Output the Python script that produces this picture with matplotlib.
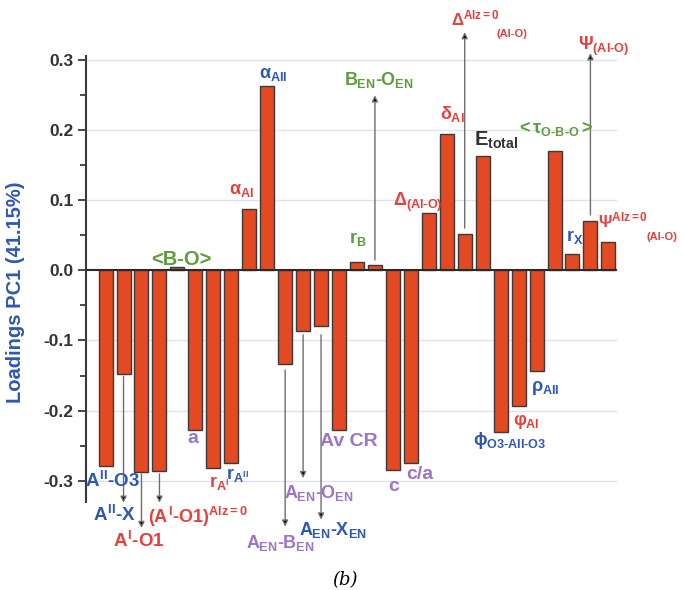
import matplotlib
matplotlib.use('Agg')
import matplotlib.pyplot as plt

plt.rcParams['font.family'] = ['Liberation Sans', 'DejaVu Sans']
plt.rcParams['font.weight'] = 'bold'
plt.rcParams['mathtext.fontset'] = 'custom'
plt.rcParams['mathtext.rm'] = 'Liberation Sans:bold'
plt.rcParams['mathtext.it'] = 'Liberation Sans:bold'
plt.rcParams['mathtext.bf'] = 'Liberation Sans:bold'
plt.rcParams['mathtext.sf'] = 'Liberation Sans:bold'

# ---- data -------------------------------------------------------------
variables = ["AII-O3", "AII-X", "AI-O1", "(AI-O1)Alz=0", "<B-O>", "a", "rAI", "rAII",
             "alphaAI", "alphaAII", "AEN-BEN", "AEN-OEN", "AEN-XEN", "Av CR", "rB",
             "BEN-OEN", "c", "c/a", "Delta(Al-O)", "deltaAI", "DeltaAlz=0(Al-O)",
             "Etotal", "phiO3-AII-O3", "phiAI", "rhoAII", "<tauO-B-O>", "rx",
             "Psi(Al-O)", "PsiAlz=0(Al-O)"]
loadings = [-0.279, -0.148, -0.287, -0.286, 0.005, -0.228, -0.282, -0.274,
            0.087, 0.262, -0.133, -0.086, -0.080, -0.228, 0.012,
            0.007, -0.285, -0.275, 0.082, 0.194, 0.052,
            0.162, -0.231, -0.193, -0.143, 0.170, 0.023,
            0.070, 0.040]
yticks = [-0.3, -0.2, -0.1, 0.0, 0.1, 0.2, 0.3]
ylabel = "Loadings PC1 (41.15%)"

RED = '#e6403c'
BLUE = '#2f58b4'
GREEN = '#5f9c3c'
PURPLE = '#9c74c8'
DARK = '#333333'

# annotation texts (text, colour, x, y, size) in data coordinates
label_texts = [r"$A^{II}$-O3", r"$A^{II}$-X", r"$A^{I}$-O1", r"$(A^{I}$-$O1)^{Alz=0}$", "<B-O>", "a",
               r"$r_{A^{I}}$", r"$r_{A^{II}}$", r"$\alpha_{AI}$", r"$\alpha_{AII}$",
               r"$A_{EN}$-$B_{EN}$", r"$A_{EN}$-$O_{EN}$", r"$A_{EN}$-$X_{EN}$", "Av CR",
               r"$r_{B}$", r"$B_{EN}$-$O_{EN}$", "c", "c/a", r"$\Delta_{(Al\text{-}O)}$",
               r"$\delta_{AI}$", r"$\Delta^{Alz=0}$", "(Al-O)", r"$E_{total}$",
               r"$\phi_{O3\text{-}AII\text{-}O3}$", r"$\varphi_{AI}$", r"$\rho_{AII}$",
               r"$<\tau_{O\text{-}B\text{-}O}>$", r"$r_{X}$", r"$\Psi_{(Al\text{-}O)}$",
               r"$\Psi^{Alz=0}$", "(Al-O)"]
label_colors = [BLUE, BLUE, RED, RED, GREEN, PURPLE,
                RED, BLUE, RED, BLUE,
                PURPLE, PURPLE, BLUE, PURPLE,
                GREEN, GREEN, PURPLE, PURPLE, RED,
                RED, RED, RED, DARK,
                BLUE, RED, BLUE,
                GREEN, BLUE, RED,
                RED, RED]
label_x = [0.39, 0.50, 1.87, 5.15, 4.23, 4.84,
           6.32, 7.38, 7.57, 9.35,
           9.72, 11.89, 12.67, 13.56,
           14.06, 15.23, 16.06, 17.51, 17.37,
           19.32, 20.6, 22.63, 21.74,
           22.52, 23.44, 24.50,
           25.0, 26.14, 27.76,
           28.79, 30.99]
label_y = [-0.300, -0.348, -0.385, -0.351, 0.015, -0.239,
           -0.303, -0.291, 0.113, 0.279,
           -0.389, -0.317, -0.370, -0.244,
           0.044, 0.271, -0.308, -0.291, 0.096,
           0.222, 0.359, 0.337, 0.185,
           -0.243, -0.216, -0.167,
           0.202, 0.047, 0.318,
           0.0707, 0.047]
label_sizes = [13.5, 13.5, 13.5, 13, 14.5, 14,
               13, 13, 13, 13,
               13, 13, 13, 14,
               13, 13, 14, 14, 13,
               13, 12, 8, 14.5,
               13, 13, 13,
               13, 13, 13,
               12, 8]

# arrows: bar index, start value, end value
arrow_bars = [1, 2, 3, 10, 11, 12, 15, 20, 27]
arrow_start = [-0.151, -0.290, -0.290, -0.142, -0.092, -0.092, 0.0145, 0.060, 0.0785]
arrow_end = [-0.331, -0.367, -0.331, -0.365, -0.296, -0.355, 0.249, 0.339, 0.309]

# ---- figure -----------------------------------------------------------
fig = plt.figure(figsize=(6.83, 5.90), dpi=100)
ax = fig.add_axes([86 / 683, 88 / 590, 531 / 683, 446 / 590])

x = list(range(len(loadings)))
ax.bar(x, loadings, width=0.78, color='#e44a22', edgecolor='#3a3a3a', linewidth=1.0, zorder=3)

ax.set_xlim(-1.09, 28.48)
ax.set_ylim(-0.33, 0.305)

for t in yticks:
    if t != 0:
        ax.axhline(t, color='#dfe1ef', lw=1.0, zorder=1)
ax.axhline(0, color='#2a2a2a', lw=1.5, zorder=4)

for s in ['top', 'right', 'bottom']:
    ax.spines[s].set_visible(False)
ax.spines['left'].set_linewidth(1.5)
ax.spines['left'].set_color('#3a3a3a')
ax.set_xticks([])
ax.set_yticks(yticks)
ax.set_yticklabels([f"{t:.1f}" for t in yticks], fontsize=12.5, fontweight='bold', color=DARK)
ax.set_yticks([-0.25, -0.15, -0.05, 0.05, 0.15, 0.25], minor=True)
ax.tick_params(axis='y', which='major', length=6, width=1.3, color='#3a3a3a', pad=3)
ax.tick_params(axis='y', which='minor', length=4, width=1.3, color='#3a3a3a')
ax.set_ylabel(ylabel, fontsize=14.5, fontweight='bold', color=BLUE)
ax.yaxis.set_label_coords(-0.115, 0.471)

for bi, ys, ye in zip(arrow_bars, arrow_start, arrow_end):
    ax.annotate('', xy=(bi, ye), xytext=(bi, ys),
                arrowprops=dict(arrowstyle='-|>', color='#6e6e6e', lw=1.0,
                                mutation_scale=9, shrinkA=0, shrinkB=0,
                                fc='black', ec='#6e6e6e'),
                annotation_clip=False, zorder=5)

for txt, col, lx, ly, fs in zip(label_texts, label_colors, label_x, label_y, label_sizes):
    ax.text(lx, ly, txt, color=col, fontsize=fs, fontweight='bold',
            ha='center', va='center', clip_on=False, zorder=6)

fig.text(345 / 683, 1 - 580 / 590, '(b)', fontsize=13, style='italic',
         family='DejaVu Serif', fontweight='normal', ha='center', va='center')

fig.savefig('out.png', dpi=100)
